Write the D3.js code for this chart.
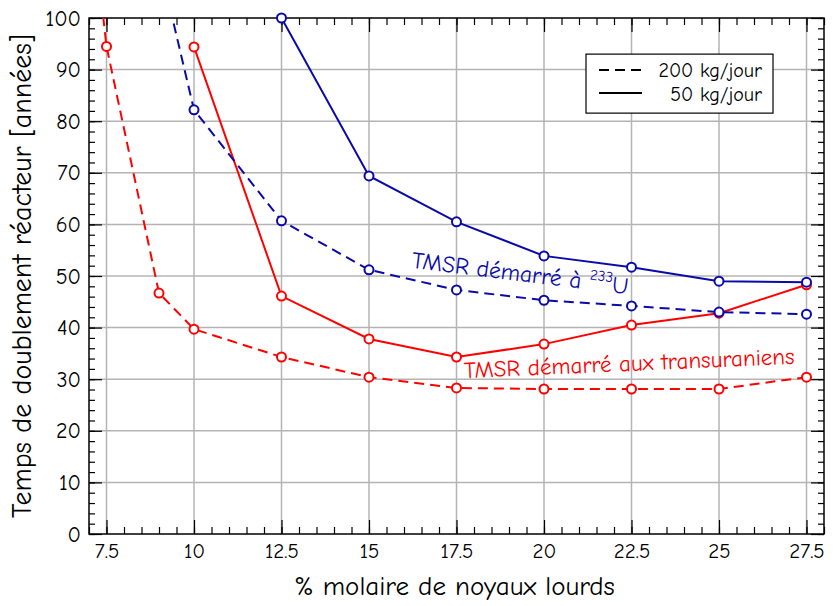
<!DOCTYPE html>
<html>
<head>
<meta charset="utf-8">
<script src="https://cdn.jsdelivr.net/npm/d3@7"></script>
<style>
  body { margin: 0; background: #fff; }
  text { font-family: "Comic Sans MS", "Comic Neue", "DejaVu Sans", sans-serif; }
</style>
</head>
<body>
<svg id="chart" width="834" height="606"></svg>
<script>
// % molaire de noyaux lourds
const xTicks = [7.5, 10, 12.5, 15, 17.5, 20, 22.5, 25, 27.5]
const yTicks = [0, 10, 20, 30, 40, 50, 60, 70, 80, 90, 100]

// TMSR démarré aux transuraniens
const truX200 = [7, 7.5, 9, 10, 12.5, 15, 17.5, 20, 22.5, 25, 27.5]
const truY200 = [125, 94.5, 46.7, 39.7, 34.3, 30.4, 28.3, 28.1, 28.1, 28.1, 30.4]
const truX50 = [10, 12.5, 15, 17.5, 20, 22.5, 25, 27.5]
const truY50 = [94.4, 46.1, 37.8, 34.3, 36.8, 40.5, 42.8, 48.3]

// TMSR démarré à 233U
const uX200 = [9, 10, 12.5, 15, 17.5, 20, 22.5, 25, 27.5]
const uY200 = [111, 82.2, 60.7, 51.2, 47.3, 45.3, 44.2, 43.0, 42.6]
const uX50 = [12.5, 15, 17.5, 20, 22.5, 25, 27.5]
const uY50 = [100, 69.4, 60.5, 53.9, 51.7, 49.0, 48.8]

const RED = "#ff0000"
const BLUE = "#0a0aaa"

const M = {left: 89, right: 10, top: 18, bottom: 72}
const W = 834, H = 606
const width = W - M.left - M.right
const height = H - M.top - M.bottom

const svg = d3.select("#chart")

const x = d3.scaleLinear().domain([7, 28]).range([0, width])
const y = d3.scaleLinear().domain([0, 100]).range([height, 0])

const g = svg.append("g").attr("transform", `translate(${M.left},${M.top})`)

g.append("clipPath").attr("id", "clip")
    .append("rect").attr("width", width).attr("height", height)

// grid
g.append("g")
    .selectAll("line.vg")
    .data(xTicks)
    .join("line")
    .attr("x1", d => x(d)).attr("x2", d => x(d))
    .attr("y1", 0).attr("y2", height)
    .attr("stroke", "#b4b4b4").attr("stroke-width", 1.5)
g.append("g")
    .selectAll("line.hg")
    .data(yTicks.filter(d => d > 0 && d < 100))
    .join("line")
    .attr("x1", 0).attr("x2", width)
    .attr("y1", d => y(d)).attr("y2", d => y(d))
    .attr("stroke", "#b4b4b4").attr("stroke-width", 1.5)

// ticks (inward, on all four sides)
const xMinor = d3.range(7, 28.01, 0.5)
const yMinor = d3.range(0, 100.01, 2)

function ticks(axis, vals, size, tr) {
    const a = g.append("g")
        .attr("transform", tr)
        .call(axis.tickValues(vals).tickSize(size).tickFormat(""))
    a.select(".domain").remove()
    a.selectAll("line").attr("stroke", "#000").attr("stroke-width", 1.2)
    return a
}
ticks(d3.axisBottom(x), xMinor, -7, `translate(0,${height})`)
ticks(d3.axisBottom(x), xTicks, -14, `translate(0,${height})`)
ticks(d3.axisTop(x), xMinor, -7, "translate(0,0)")
ticks(d3.axisTop(x), xTicks, -14, "translate(0,0)")
ticks(d3.axisLeft(y), yMinor, -6, "translate(0,0)")
ticks(d3.axisLeft(y), yTicks, -13, "translate(0,0)")
ticks(d3.axisRight(y), yMinor, -6, `translate(${width},0)`)
ticks(d3.axisRight(y), yTicks, -13, `translate(${width},0)`)

// tick labels
const xl = g.append("g")
    .attr("transform", `translate(0,${height})`)
    .call(d3.axisBottom(x).tickValues(xTicks).tickSize(0).tickPadding(9).tickFormat(d => String(d)))
xl.select(".domain").remove()
xl.selectAll("text").style("font-size", "21px").attr("fill", "#000")

const yl = g.append("g")
    .call(d3.axisLeft(y).tickValues(yTicks).tickSize(0).tickPadding(8))
yl.select(".domain").remove()
yl.selectAll("text").style("font-size", "22px").attr("fill", "#000")

// frame
g.append("rect")
    .attr("width", width).attr("height", height)
    .attr("fill", "none").attr("stroke", "#000").attr("stroke-width", 1.5)

// series
const line = d3.line().x(d => x(d[0])).y(d => y(d[1]))

function series(xs, ys, color, dashed) {
    const pts = xs.map((v, i) => [v, ys[i]])
    g.append("path")
        .datum(pts)
        .attr("clip-path", "url(#clip)")
        .attr("d", line)
        .attr("fill", "none")
        .attr("stroke", color)
        .attr("stroke-width", 2)
        .attr("stroke-dasharray", dashed ? "10,6" : null)
    g.append("g")
        .selectAll("circle")
        .data(pts.filter(d => d[1] <= 100 && d[0] >= 7.5))
        .join("circle")
        .attr("cx", d => x(d[0]))
        .attr("cy", d => y(d[1]))
        .attr("r", 4.5)
        .attr("fill", "#fff")
        .attr("stroke", color)
        .attr("stroke-width", 2)
}
series(truX200, truY200, RED, true)
series(truX50, truY50, RED, false)
series(uX200, uY200, BLUE, true)
series(uX50, uY50, BLUE, false)

// curve labels
const lblU = g.append("text")
    .attr("transform", `translate(${x(16.2)},${y(51.6)}) rotate(7)`)
    .attr("fill", BLUE)
    .style("font-size", "23.5px")
lblU.append("tspan").text("TMSR démarré à ")
lblU.append("tspan").attr("dy", -10).style("font-size", "15px").text("233")
lblU.append("tspan").attr("dy", 10).text("U")

g.append("text")
    .attr("transform", `translate(${x(17.72)},${y(30.2)}) rotate(-2.5)`)
    .attr("fill", RED)
    .style("font-size", "23px")
    .text("TMSR démarré aux transuraniens")

// legend
const lg = g.append("g").attr("transform", `translate(${x(21.2)},${y(93)})`)
lg.append("rect")
    .attr("width", 187).attr("height", 59)
    .attr("fill", "#fff").attr("stroke", "#000").attr("stroke-width", 1.2)
const legendItems = [["200 kg/jour", "10,6"], ["50 kg/jour", null]]
legendItems.forEach((d, i) => {
    lg.append("line")
        .attr("x1", 13).attr("x2", 56)
        .attr("y1", 16 + i * 23).attr("y2", 16 + i * 23)
        .attr("stroke", "#000").attr("stroke-width", 2)
        .attr("stroke-dasharray", d[1])
    lg.append("text")
        .attr("x", 176).attr("y", 23 + i * 24)
        .attr("text-anchor", "end")
        .style("font-size", "20px")
        .text(d[0])
})

// axis titles
svg.append("text")
    .attr("x", M.left + width / 2 - 2).attr("y", 595)
    .attr("text-anchor", "middle")
    .style("font-size", "27px")
    .text("% molaire de noyaux lourds")

svg.append("text")
    .attr("transform", `translate(31,${M.top + height / 2}) rotate(-90)`)
    .attr("text-anchor", "middle")
    .style("font-size", "28px")
    .text("Temps de doublement réacteur [années]")
</script>
</body>
</html>
